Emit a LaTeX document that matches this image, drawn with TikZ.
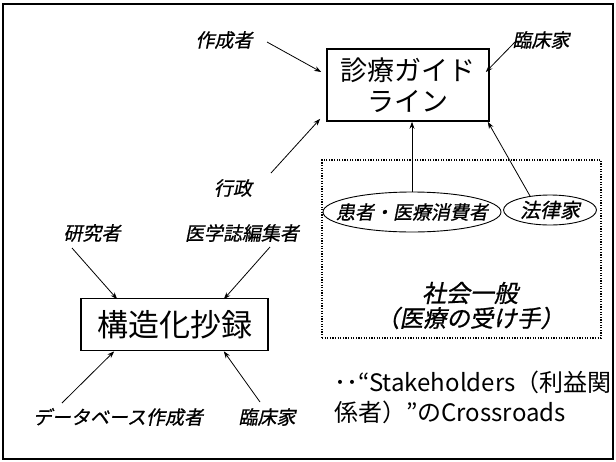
\documentclass[tikz,border=0pt]{standalone}
\usepackage{fontspec}
\setmainfont{Noto Sans CJK JP}
\newfontfamily\jpit[FakeSlant=0.2,FakeBold=0.8]{Noto Sans CJK JP}
\usetikzlibrary{calc,arrows.meta,shapes.geometric}
\begin{document}
\begin{tikzpicture}[x=1pt,y=-1pt,
  lbl/.style={font=\jpit\fontsize{19}{22}\selectfont, inner sep=0pt},
  arr/.style={-{Stealth[length=7pt,width=5pt]}, line width=0.8pt},
  mainbox/.style={draw, line width=1.6pt, inner sep=0pt, align=center},
  oval/.style={draw, ellipse, line width=0.9pt, inner sep=0pt},
  dotbox/.style={draw, dash pattern=on 1.2pt off 1.4pt, line width=1.2pt, inner sep=0pt}]
\useasboundingbox (0,0) rectangle (616,461);
\draw[line width=1.5pt] (3,4) rectangle (613,459);

% main boxes
\node[mainbox, minimum width=162pt, minimum height=72pt,
      font=\fontsize{27}{31}\selectfont] (g) at (408,85) {診療ガイド\\ライン};
\node[mainbox, minimum width=187pt, minimum height=52pt,
      font=\fontsize{31}{34}\selectfont] (k) at (174.5,324.5) {構造化抄録};

% society box
\node[dotbox, minimum width=279pt, minimum height=178pt] (soc) at (461.5,249) {};
\node[oval, minimum width=178pt, minimum height=40pt] (e1) at (412,212) {};
\node[lbl] (e1t) at (e1) {患者・医療消費者};
\node[oval, minimum width=93pt, minimum height=30pt] (e2) at (550,210) {};
\node[lbl, font=\jpit\fontsize{20}{22}\selectfont] (e2t) at (e2) {法律家};
\node[lbl, font=\jpit\fontsize{24}{27}\selectfont] (sg) at (470,293) {社会一般};
\node[lbl, font=\jpit\fontsize{23.5}{27}\selectfont] (sg2) at (470,318) {（医療の受け手）};

% labels
\node[lbl] (sakusei) at (224,40) {作成者};
\node[lbl] (rinsho1) at (541,40) {臨床家};
\node[lbl] (gyosei) at (233,188) {行政};
\node[lbl] (kenkyu) at (92,233) {研究者};
\node[lbl] (igaku) at (242,233) {医学誌編集者};
\node[lbl] (db) at (118,417) {データベース作成者};
\node[lbl] (rinsho2) at (267,417) {臨床家};

% note
\node[anchor=west, inner sep=0pt, align=left,
      font=\fontsize{24}{30}\selectfont] (note) at (334,397)
      {･･“Stakeholders（利益関\\係者）”のCrossroads};

% arrows to guideline
\draw[arr] ($(sakusei)+(43,2)$) -- ($(g.west)+(-5,-13)$);
\draw[arr] ($(rinsho1)+(-26,2)$) -- ($(g.east)+(-4,-13)$);
\draw[arr] ($(gyosei)+(38,-15)$) -- ($(g.south west)+(-6,-3)$);
\draw[arr] (e1.north) -- (e1.north |- g.south);
\draw[arr] (e2.145) -- ($(g.south east)+(-2,0)$);

% arrows to abstract
\draw[arr] ($(kenkyu)+(-20,15)$) -- ($(k.north west)+(37,1.5)$);
\draw[arr] ($(igaku)+(28,14)$) -- ($(k.north east)+(-45,1.5)$);
\draw[arr] ($(db)+(-56,-14)$) -- ($(k.south west)+(34,0)$);
\draw[arr] ($(rinsho2)+(-7,-15)$) -- ($(k.south east)+(-45,0)$);
\end{tikzpicture}
\end{document}
